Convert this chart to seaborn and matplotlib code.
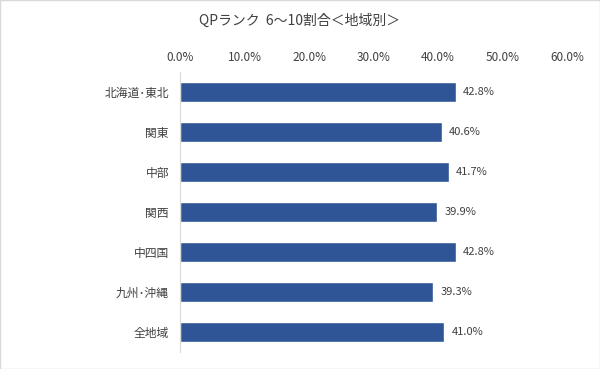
import pandas as pd
import seaborn as sns
import matplotlib.pyplot as plt
from matplotlib.ticker import PercentFormatter

# data
regions = ['北海道･東北', '関東', '中部', '関西', '中四国', '九州･沖縄', '全地域']
ratios = [42.8, 40.6, 41.7, 39.9, 42.8, 39.3, 41.0]
df = pd.DataFrame({'region': regions, 'ratio': ratios})

sns.set_style('white')
plt.rcParams['font.family'] = ['Noto Sans CJK JP', 'DejaVu Sans']

fig = plt.figure(figsize=(6, 3.69), dpi=100)
ax = fig.add_axes([0.3, 0.046, 0.645, 0.759])

sns.barplot(data=df, x='ratio', y='region', color='#2F5597', width=0.5,
            saturation=1, ax=ax)

ax.set_xlim(0, 60)
ax.xaxis.set_major_formatter(PercentFormatter(decimals=1))
ax.xaxis.tick_top()
ax.tick_params(axis='x', length=0, labelsize=8.5, colors='#404040', pad=6)
ax.tick_params(axis='y', length=0, labelsize=8.5, colors='#404040', pad=8)
ax.set_xlabel('')
ax.set_ylabel('')
for s in ['top', 'right', 'bottom']:
    ax.spines[s].set_visible(False)
ax.spines['left'].set_color('#d9d9d9')

for c in ax.containers:
    ax.bar_label(c, labels=[f'{v:.1f}%' for v in ratios], padding=5,
                 fontsize=8, color='#404040')

fig.text(0.5, 0.943, 'QPランク  6～10割合＜地域別＞', ha='center', va='center',
         fontsize=10, color='#404040')

# thin frame around the picture
fig.patches.append(plt.Rectangle((0, 0), 1, 1, transform=fig.transFigure,
                                 fill=False, edgecolor='#d9d9d9', lw=1))

fig.savefig('out.png', dpi=100)
